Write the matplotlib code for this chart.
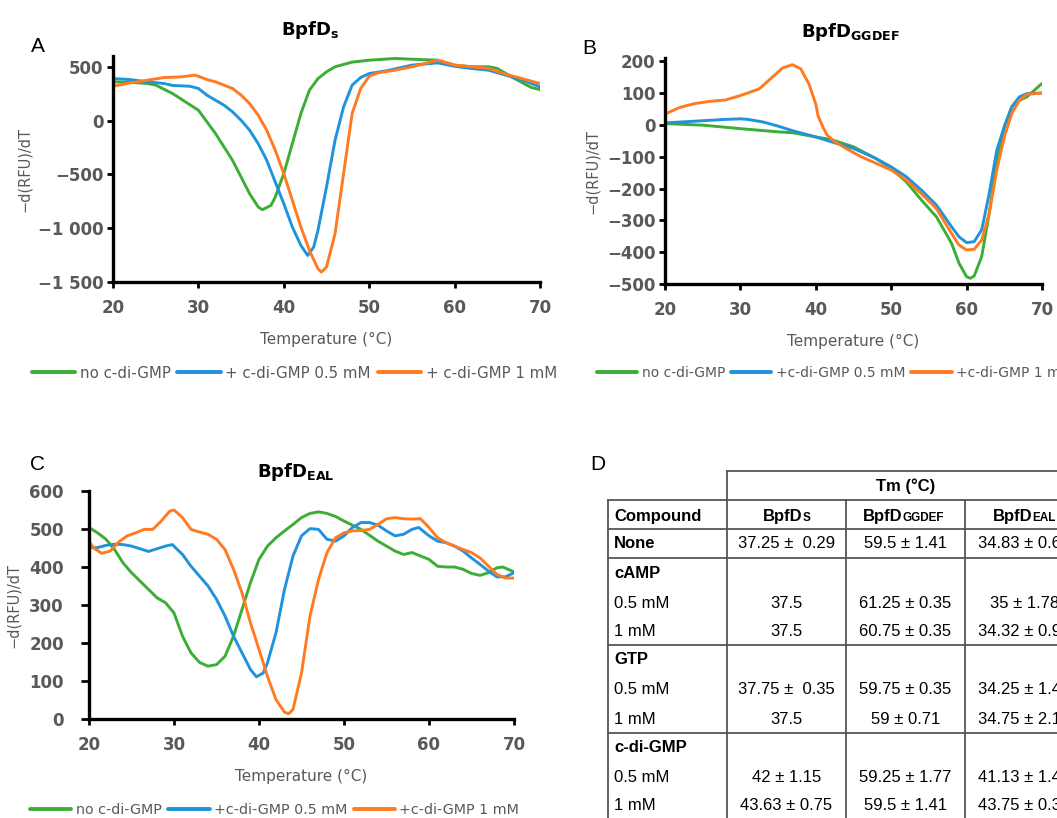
import matplotlib
matplotlib.use("Agg")
import matplotlib.pyplot as plt

W, H = 1057, 818

GREEN = "#3cad35"
BLUE = "#1f93dc"
ORANGE = "#ff7a21"
GRAY = "#595959"

# ---- panel A: BpfDs ----
a_t_green = [20, 22, 24, 25, 27, 30, 32, 34, 35, 36, 37, 37.5, 38.5, 39, 40, 41, 42, 43, 44, 45, 46, 48, 50, 53, 55, 58, 60, 62, 64, 65, 67, 69, 70]
a_green = [360, 355, 345, 330, 250, 96, -120, -370, -525, -680, -803, -828, -788, -710, -493, -214, 65, 282, 390, 453, 500, 543, 561, 577, 570, 561, 515, 500, 500, 484, 391, 307, 288]
a_t_blue = [20, 22, 24, 26, 27, 29, 30, 31, 32, 33, 34, 35, 36, 37, 38, 39, 40, 41, 42, 42.8, 43.5, 44, 45, 46, 47, 48, 49, 50, 52, 55, 58, 60, 62, 64, 66, 68, 70]
a_blue = [390, 381, 360, 344, 326, 319, 298, 236, 189, 143, 81, 3, -90, -214, -369, -571, -772, -989, -1160, -1253, -1175, -1020, -617, -183, 127, 329, 400, 437, 462, 515, 536, 505, 484, 468, 422, 375, 313]
a_t_orange = [20, 22, 24, 26, 28, 29.5, 30, 31, 32, 33, 34, 35, 36, 37, 38, 39, 40, 41, 42, 43, 44, 44.4, 45, 46, 47, 48, 49, 50, 51, 53, 55, 58, 60, 62, 64, 66, 68, 70]
a_orange = [319, 350, 375, 400, 406, 422, 412, 381, 360, 329, 298, 236, 158, 50, -90, -276, -493, -741, -989, -1206, -1377, -1408, -1361, -1051, -493, 65, 298, 412, 443, 468, 499, 561, 515, 500, 484, 431, 388, 344]

# ---- panel B: BpfDGGDEF ----
b_t_green = [20, 25, 30, 35, 37, 40, 42, 45, 48, 50, 52, 54, 56, 58, 59, 60, 60.5, 61, 62, 63, 64, 65, 66, 67, 68, 69, 70]
b_green = [4, -1, -12, -22, -25, -38, -46, -69, -106, -137, -179, -236, -289, -372, -435, -477, -482, -475, -414, -278, -111, -6, 57, 77, 88, 109, 130]
b_t_blue = [20, 25, 28, 30, 31, 33, 35, 37, 40, 42, 45, 48, 50, 52, 54, 56, 58, 59, 60, 61, 62, 63, 64, 65, 66, 67, 68, 70]
b_blue = [6, 13, 17, 19, 17, 9, -4, -19, -38, -53, -74, -106, -132, -163, -205, -252, -320, -352, -370, -367, -330, -216, -80, -6, 57, 88, 98, 100]
b_t_orange = [20, 22, 24, 26, 28, 30, 32.5, 34.2, 35.6, 36.9, 38, 39.1, 40, 40.3, 41, 41.5, 42.5, 44, 46, 48, 50, 52, 54, 56, 58, 59, 60, 61, 62, 63, 64, 65, 66, 67, 68, 70]
b_orange = [34, 55, 67, 74, 78, 92, 113, 149, 179, 189, 176, 128, 65, 28, -10, -32, -53, -74, -100, -121, -142, -174, -216, -263, -341, -378, -393, -391, -362, -278, -142, -38, 36, 77, 96, 100]

# ---- panel C: BpfDEAL ----
c_t_green = [20, 21, 22, 23, 24, 25, 26, 27, 28, 29, 30, 31, 32, 33, 34, 35, 36, 37, 38, 39, 40, 41, 42, 43, 44, 45, 46, 47, 48, 49, 50, 52, 54, 56, 57, 58, 59, 60, 61, 62, 63, 64, 65, 66, 67, 68, 68.7, 69.5, 70]
c_green = [504, 490, 473, 446, 411, 385, 363, 341, 319, 306, 279, 218, 174, 149, 139, 143, 165, 218, 288, 359, 420, 455, 477, 495, 512, 530, 541, 545, 541, 533, 521, 499, 468, 442, 433, 438, 429, 420, 402, 400, 400, 394, 383, 378, 385, 398, 400, 392, 387]
c_t_blue = [20, 21, 22, 23, 24, 25, 26, 27, 28, 29, 29.8, 31, 32, 33, 34, 35, 36, 37, 38, 39, 39.7, 40.5, 41, 42, 43, 44, 45, 46, 47, 48, 49, 50, 51, 52, 53, 54, 55, 56, 57, 58, 58.8, 60, 61, 62, 63, 64, 65, 66, 67, 68, 69, 70]
c_blue = [451, 451, 457, 460, 459, 455, 448, 441, 448, 455, 459, 433, 402, 376, 350, 315, 271, 218, 174, 130, 111, 121, 148, 227, 341, 429, 482, 501, 499, 473, 468, 482, 504, 517, 517, 510, 495, 482, 486, 499, 504, 482, 468, 464, 455, 442, 424, 407, 389, 374, 374, 385]
c_t_orange = [20, 20.5, 21.5, 22.5, 23.5, 24.5, 25.5, 26.5, 27.5, 28.5, 29.5, 30, 31, 32, 33, 34, 35, 36, 37, 38, 39, 40, 41, 42, 43, 43.5, 44, 45, 46, 47, 48, 49, 50, 51, 52, 53, 54, 55, 56, 57, 58, 59, 60, 61, 62, 63, 64, 65, 66, 67, 68, 69, 70]
c_orange = [468, 451, 436, 442, 466, 482, 490, 499, 499, 521, 547, 550, 530, 499, 492, 486, 473, 446, 394, 332, 253, 183, 112, 51, 18, 14, 25, 121, 271, 367, 438, 477, 490, 495, 496, 499, 512, 527, 530, 527, 526, 527, 504, 477, 464, 455, 446, 438, 424, 402, 380, 371, 371]

legend_ab = ["no c-di-GMP", "+ c-di-GMP 0.5 mM", "+ c-di-GMP 1 mM"]
legend_bc = ["no c-di-GMP", "+c-di-GMP 0.5 mM", "+c-di-GMP 1 mM"]

# ---- table D ----
tab_cols = ["BpfD", "BpfD", "BpfD"]
tab_subs = ["S", "GGDEF", "EAL"]
tab_rows = ["None", "cAMP", "0.5 mM", "1 mM", "GTP", "0.5 mM", "1 mM", "c-di-GMP", "0.5 mM", "1 mM"]
tab_s = ["37.25 \u00b1  0.29", "", "37.5", "37.5", "", "37.75 \u00b1  0.35", "37.5", "", "42 \u00b1 1.15", "43.63 \u00b1 0.75"]
tab_ggdef = ["59.5 \u00b1 1.41", "", "61.25 \u00b1 0.35", "60.75 \u00b1 0.35", "", "59.75 \u00b1 0.35", "59 \u00b1 0.71", "", "59.25 \u00b1 1.77", "59.5 \u00b1 1.41"]
tab_eal = ["34.83 \u00b1 0.61", "", "35 \u00b1 1.78", "34.32 \u00b1 0.91", "", "34.25 \u00b1 1.41", "34.75 \u00b1 2.12", "", "41.13 \u00b1 1.41", "43.75 \u00b1 0.35"]
bold_rows = {"None", "cAMP", "GTP", "c-di-GMP"}

plt.rcParams['font.family'] = ['DejaVu Sans']
plt.rcParams['mathtext.fontset'] = 'dejavusans'

fig = plt.figure(figsize=(W / 100, H / 100), dpi=100)


def box(l, t, r, b):
    return [l / W, 1 - b / H, (r - l) / W, (b - t) / H]


def style(ax, ylim, yticks, ylabels, ylabelpad, ypad=3, ylen=4):
    ax.set_xlim(20, 70)
    ax.set_ylim(*ylim)
    ax.set_xticks([20, 30, 40, 50, 60, 70])
    ax.set_yticks(yticks)
    ax.set_yticklabels(ylabels)
    for s in ["top", "right"]:
        ax.spines[s].set_visible(False)
    for s in ["left", "bottom"]:
        ax.spines[s].set_linewidth(2.4)
    ax.tick_params(axis="both", direction="out", width=2, labelsize=12,
                   labelcolor=GRAY)
    ax.tick_params(axis="x", pad=8, length=4)
    ax.tick_params(axis="y", pad=ypad, length=ylen)
    for lab in ax.get_xticklabels() + ax.get_yticklabels():
        lab.set_fontweight("bold")
    ax.set_xlabel("Temperature (\u00b0C)", color=GRAY, fontsize=11, labelpad=11)
    ax.set_ylabel("\u2212d(RFU)/dT", color=GRAY, fontsize=10.5, labelpad=ylabelpad)
    ax.patch.set_alpha(0)


def curves(ax, tg, g, tb, b, to, o, labels, anchor, fsz):
    kw = dict(lw=2.1, solid_joinstyle="round", solid_capstyle="round")
    ax.plot(tg, g, color=GREEN, label=labels[0], **kw)
    ax.plot(tb, b, color=BLUE, label=labels[1], **kw)
    ax.plot(to, o, color=ORANGE, label=labels[2], **kw)
    leg = ax.legend(loc="center left", bbox_to_anchor=anchor, ncol=3, frameon=False,
                    handlelength=2.9, handletextpad=0.3, columnspacing=0.45,
                    fontsize=fsz, borderpad=0, borderaxespad=0)
    for t in leg.get_texts():
        t.set_color(GRAY)
    for h in leg.get_lines():
        h.set_linewidth(2.8)


# panel A
axA = fig.add_axes(box(113, 56, 540, 282))
curves(axA, a_t_green, a_green, a_t_blue, a_blue, a_t_orange, a_orange, legend_ab, (-0.190, -0.403), 10.8)
style(axA, (-1500, 600), [-1500, -1000, -500, 0, 500], ["\u22121 500", "\u22121 000", "\u2212500", "0", "500"], 4)

# panel B
axB = fig.add_axes(box(665, 58, 1042, 284))
curves(axB, b_t_green, b_green, b_t_blue, b_blue, b_t_orange, b_orange, legend_bc, (-0.18, -0.394), 10)
style(axB, (-500, 210), list(range(-500, 201, 100)),
      ["\u2212500", "\u2212400", "\u2212300", "\u2212200", "\u2212100", "0", "100", "200"], 5)

# panel C
axC = fig.add_axes(box(89, 491, 514, 719))
curves(axC, c_t_green, c_green, c_t_blue, c_blue, c_t_orange, c_orange, legend_bc, (-0.139, -0.4), 10.3)
style(axC, (0, 600), list(range(0, 601, 100)), [str(v) for v in range(0, 601, 100)], 6,
      ypad=12, ylen=6)

# overlay in pixel coordinates for titles, panel letters and the table
ov = fig.add_axes([0, 0, 1, 1])
ov.set_xlim(0, W)
ov.set_ylim(H, 0)
ov.axis("off")
ov.patch.set_alpha(0)

for title, x, y in [(r"$\mathbf{BpfD_s}$", 310, 30), (r"$\mathbf{BpfD_{GGDEF}}$", 850, 32),
                    (r"$\mathbf{BpfD_{EAL}}$", 296, 472)]:
    ov.text(x, y, title, fontsize=13, ha="center", va="center")

for letter, x, y in [("A", 31, 47), ("B", 582, 48), ("C", 30, 465), ("D", 590, 465)]:
    ov.text(x, y, letter, fontsize=15, ha="left", va="center", family="Liberation Sans")

# table grid
lc, lw = "#555555", 1.3
ov.plot([727, 1090], [471, 471], color=lc, lw=lw)
ov.plot([608, 1090], [500, 500], color=lc, lw=lw)
for y in [529, 558, 645, 733]:
    ov.plot([608, 1090], [y, y], color=lc, lw=lw)
ov.plot([608, 608], [500, 830], color=lc, lw=lw)
ov.plot([727, 727], [471, 830], color=lc, lw=lw)
for x in [846, 965]:
    ov.plot([x, x], [500, 830], color=lc, lw=lw)

tf = "Liberation Sans"
fs = 12
col_cx = [786.5, 905.5, 1024.5]
ov.text(906, 486, "Tm (\u00b0C)", ha="center", va="center", fontsize=fs, fontweight="bold", family=tf)
ov.text(614, 516, "Compound", ha="left", va="center", fontsize=fs, fontweight="bold", family=tf)
offsets = [16, -3, 8]
for i in range(3):
    x0 = col_cx[i] + offsets[i]
    ov.text(x0, 516, tab_cols[i], ha="right", va="center", fontsize=fs, fontweight="bold", family=tf)
    ov.text(x0, 518, tab_subs[i], ha="left", va="center", fontsize=8.5, fontweight="bold", family=tf)

row_y = [544, 573, 603, 632, 660, 690, 719, 748, 777, 806]
for j, name in enumerate(tab_rows):
    y = row_y[j]
    ov.text(614, y, name, ha="left", va="center", fontsize=fs, family=tf,
            fontweight="bold" if name in bold_rows else "normal")
    for i, col in enumerate([tab_s, tab_ggdef, tab_eal]):
        ov.text(col_cx[i], y, col[j], ha="center", va="center", fontsize=fs, family=tf)

fig.savefig("out.png", dpi=100)
